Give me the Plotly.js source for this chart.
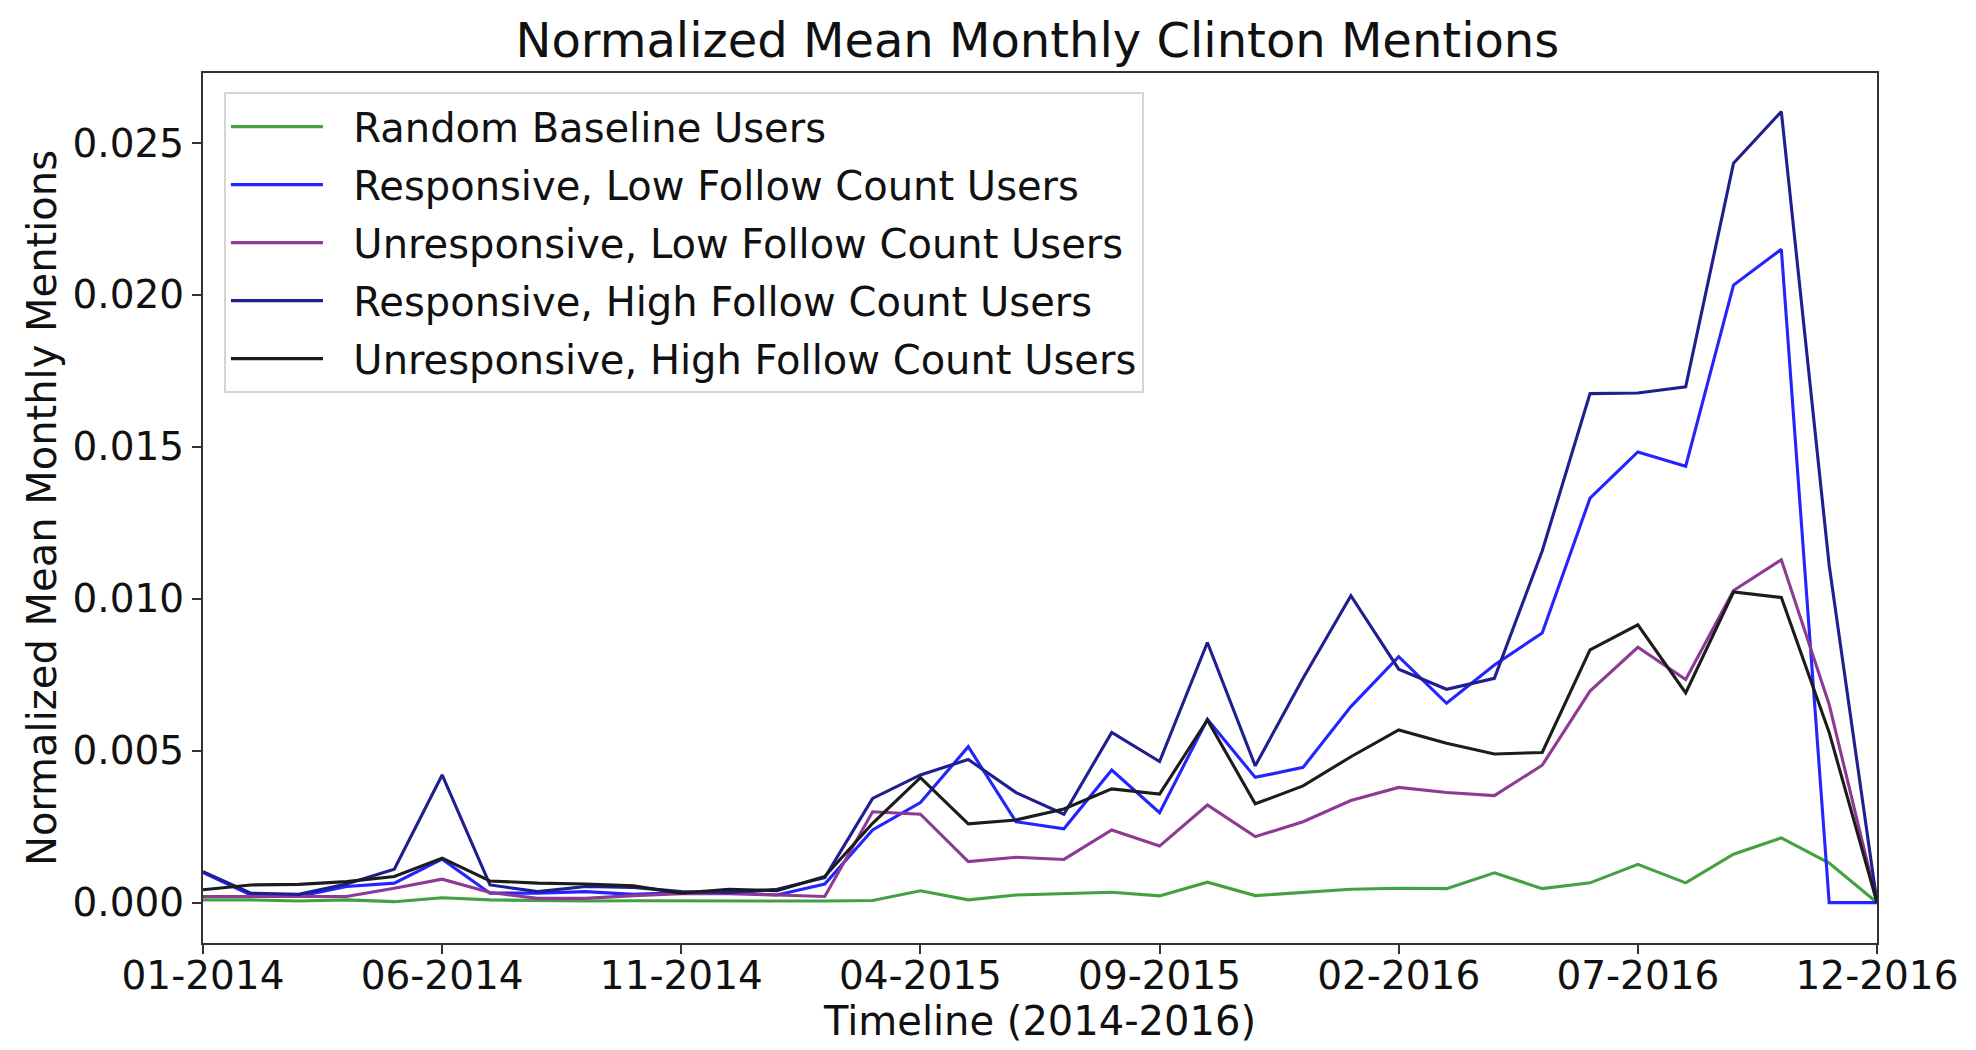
<!DOCTYPE html>
<html>
<head>
<meta charset="utf-8">
<script src="https://cdn.plot.ly/plotly-3.0.1.min.js"></script>
<style>
  html, body { margin: 0; padding: 0; background: #fff; }
  #chart { width: 1976px; height: 1050px; }
</style>
</head>
<body>
<div id="chart"></div>
<script>
// months 01-2014 .. 12-2016, one value per month
const months = Array.from({length: 36}, (_, i) => i)
const tickVals = [0, 5, 10, 15, 20, 25, 30, 35]
const tickText = ['01-2014', '06-2014', '11-2014', '04-2015', '09-2015', '02-2016', '07-2016', '12-2016']

const randomBaseline = [
  0.00009, 0.00009, 0.00005, 0.00009, 0.00003, 0.00016, 0.00009, 0.00007, 0.00005, 0.00006,
  0.00005, 0.00005, 0.00005, 0.00005, 0.00007, 0.00039, 0.00009, 0.00025, 0.00030, 0.00034,
  0.00022, 0.00067, 0.00023, 0.00033, 0.00044, 0.00047, 0.00046, 0.00098, 0.00046, 0.00065,
  0.00126, 0.00065, 0.00159, 0.00213, 0.00130, 0.0
]
const respLow = [
  0.00099, 0.00025, 0.00020, 0.00053, 0.00064, 0.00143, 0.00031, 0.00031, 0.00036, 0.00027,
  0.00033, 0.00033, 0.00025, 0.00061, 0.00239, 0.00329, 0.00513, 0.00266, 0.00243, 0.00436,
  0.00296, 0.00603, 0.00412, 0.00445, 0.00645, 0.00809, 0.00656, 0.00782, 0.00887, 0.01331,
  0.01483, 0.01436, 0.02032, 0.02150, 0.0, 0.0
]
const unrespLow = [
  0.00020, 0.00020, 0.00018, 0.00020, 0.00047, 0.00077, 0.00033, 0.00014, 0.00014, 0.00023,
  0.00029, 0.00029, 0.00025, 0.00020, 0.00299, 0.00291, 0.00135, 0.00149, 0.00142, 0.00239,
  0.00186, 0.00321, 0.00217, 0.00266, 0.00336, 0.00379, 0.00362, 0.00352, 0.00452, 0.00696,
  0.00840, 0.00734, 0.01027, 0.01128, 0.00652, 0.0
]
const respHigh = [
  0.00102, 0.00031, 0.00027, 0.00061, 0.00110, 0.00420, 0.00058, 0.00036, 0.00053, 0.00050,
  0.00036, 0.00033, 0.00044, 0.00082, 0.00343, 0.00420, 0.00471, 0.00362, 0.00291, 0.00560,
  0.00464, 0.00856, 0.00450, 0.00738, 0.01010, 0.00768, 0.00702, 0.00738, 0.01157, 0.01675,
  0.01677, 0.01697, 0.02433, 0.02603, 0.01110, 0.0
]
const unrespHigh = [
  0.00042, 0.00058, 0.00060, 0.00069, 0.00086, 0.00146, 0.00071, 0.00064, 0.00061, 0.00055,
  0.00031, 0.00044, 0.00039, 0.00086, 0.00261, 0.00411, 0.00259, 0.00272, 0.00308, 0.00374,
  0.00357, 0.00601, 0.00325, 0.00384, 0.00480, 0.00568, 0.00524, 0.00489, 0.00494, 0.00832,
  0.00914, 0.00690, 0.01022, 0.01004, 0.00560, 0.0
]

const names = [
  'Random Baseline Users',
  'Responsive, Low Follow Count Users',
  'Unresponsive, Low Follow Count Users',
  'Responsive, High Follow Count Users',
  'Unresponsive, High Follow Count Users'
]
const series = [randomBaseline, respLow, unrespLow, respHigh, unrespHigh]
const colors = ['#44a040', '#2424ff', '#8e3a95', '#1f1f8f', '#1c1c1c']

const font = 'DejaVu Sans, sans-serif'

// two non-breaking spaces keep a gap between legend line and label
const data = series.map((ys, k) => ({
  x: months,
  y: ys,
  name: '\u00a0\u00a0' + names[k],
  legendgroup: 'g' + k,
  type: 'scatter',
  mode: 'lines',
  line: {color: colors[k], width: 3.1}
}))

const axisLine = {
  showline: true,
  linecolor: '#333',
  linewidth: 2,
  mirror: true,
  showgrid: false,
  zeroline: false,
  ticks: 'outside',
  ticklen: 9,
  tickwidth: 2,
  tickcolor: '#333',
  tickfont: {family: font, size: 39, color: '#111'}
}

const layout = {
  width: 1976,
  height: 1050,
  paper_bgcolor: '#fff',
  plot_bgcolor: '#fff',
  margin: {l: 203, r: 99, t: 73, b: 107},
  title: {
    text: 'Normalized Mean Monthly Clinton Mentions',
    font: {family: font, size: 48, color: '#111'},
    x: 0.525, xanchor: 'center',
    y: 0.962, yanchor: 'middle', yref: 'container'
  },
  xaxis: Object.assign({}, axisLine, {
    range: [0, 35],
    tickvals: tickVals,
    ticktext: tickText,
    ticklabelstandoff: -12,
    title: {text: 'Timeline (2014-2016)', font: {family: font, size: 40, color: '#111'}, standoff: 2}
  }),
  yaxis: Object.assign({}, axisLine, {
    range: [-0.00133, 0.0273],
    tickvals: [0, 0.005, 0.01, 0.015, 0.02, 0.025],
    tickformat: '.3f',
    title: {text: 'Normalized Mean Monthly Mentions', font: {family: font, size: 40, color: '#111'}, standoff: 4}
  }),
  legend: {
    x: 0.0125, xanchor: 'left',
    y: 0.978, yanchor: 'top',
    bgcolor: 'rgba(255,255,255,0.85)',
    bordercolor: '#d5d5d5',
    borderwidth: 2,
    itemwidth: 92,
    tracegroupgap: 3,
    font: {family: font, size: 40, color: '#111'}
  },
  showlegend: true
}

Plotly.newPlot('chart', data, layout, {staticPlot: true})
</script>
</body>
</html>
